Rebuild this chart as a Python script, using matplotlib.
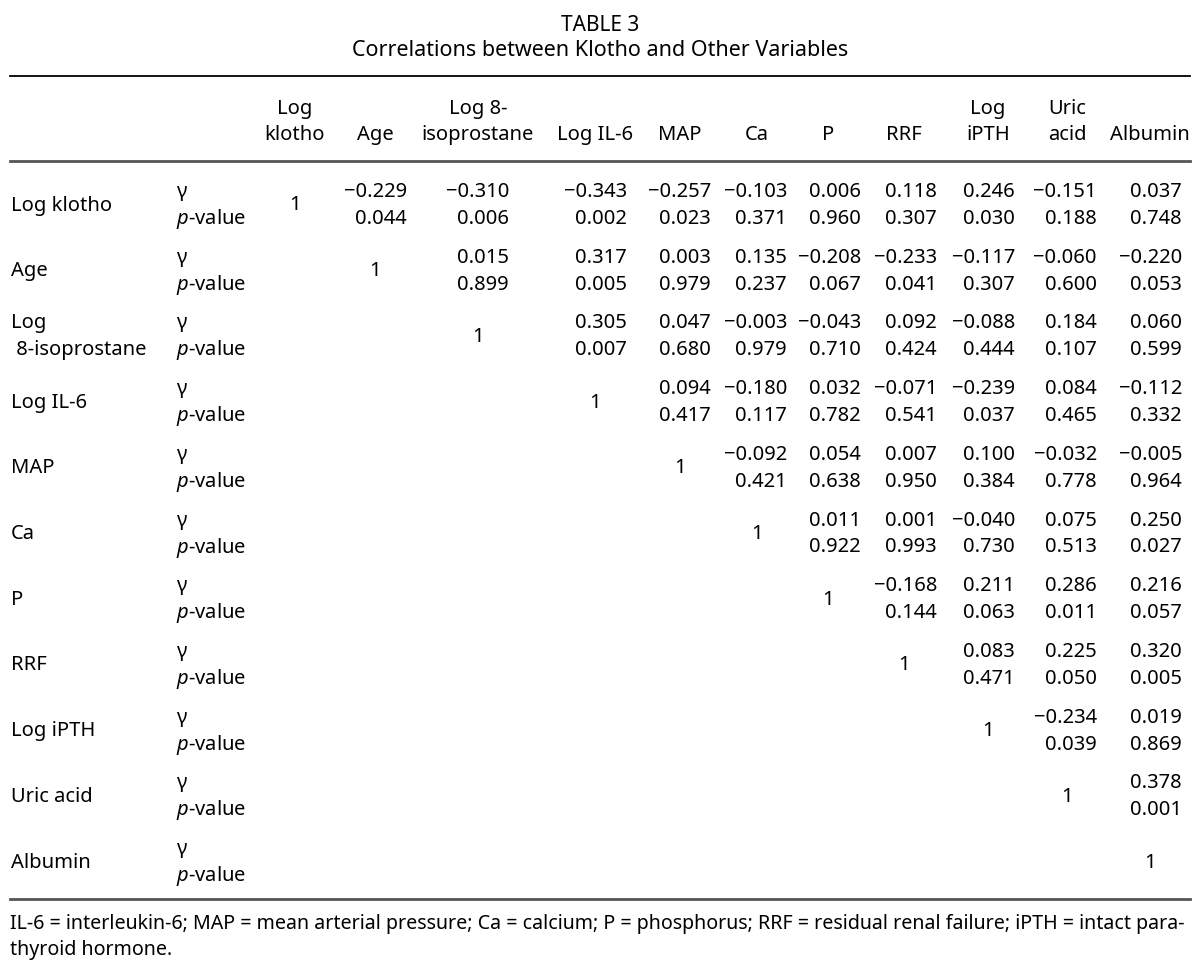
import matplotlib
matplotlib.use("Agg")
import matplotlib.pyplot as plt

plt.rcParams['font.family'] = ['Noto Sans', 'DejaVu Sans']
plt.rcParams['mathtext.fontset'] = 'custom'
plt.rcParams['mathtext.rm'] = 'Noto Sans'
plt.rcParams['mathtext.it'] = 'Noto Sans:italic'

# Table content
title = 'TABLE 3'
subtitle = 'Correlations between Klotho and Other Variables'
col_headers = ['Log\nklotho', 'Age', 'Log 8-\nisoprostane', 'Log IL-6', 'MAP', 'Ca', 'P',
               'RRF', 'Log\niPTH', 'Uric\nacid', 'Albumin']
row_labels = ['Log klotho', 'Age', 'Log\n 8-isoprostane', 'Log IL-6', 'MAP', 'Ca', 'P',
              'RRF', 'Log iPTH', 'Uric acid', 'Albumin']

# upper-triangle values, each row starts at the column after the diagonal
gamma = [
    [-0.229, -0.310, -0.343, -0.257, -0.103, 0.006, 0.118, 0.246, -0.151, 0.037],
    [0.015, 0.317, 0.003, 0.135, -0.208, -0.233, -0.117, -0.060, -0.220],
    [0.305, 0.047, -0.003, -0.043, 0.092, -0.088, 0.184, 0.060],
    [0.094, -0.180, 0.032, -0.071, -0.239, 0.084, -0.112],
    [-0.092, 0.054, 0.007, 0.100, -0.032, -0.005],
    [0.011, 0.001, -0.040, 0.075, 0.250],
    [-0.168, 0.211, 0.286, 0.216],
    [0.083, 0.225, 0.320],
    [-0.234, 0.019],
    [0.378],
    [],
]
pvals = [
    [0.044, 0.006, 0.002, 0.023, 0.371, 0.960, 0.307, 0.030, 0.188, 0.748],
    [0.899, 0.005, 0.979, 0.237, 0.067, 0.041, 0.307, 0.600, 0.053],
    [0.007, 0.680, 0.979, 0.710, 0.424, 0.444, 0.107, 0.599],
    [0.417, 0.117, 0.782, 0.541, 0.037, 0.465, 0.332],
    [0.421, 0.638, 0.950, 0.384, 0.778, 0.964],
    [0.922, 0.993, 0.730, 0.513, 0.027],
    [0.144, 0.063, 0.011, 0.057],
    [0.471, 0.050, 0.005],
    [0.039, 0.869],
    [0.001],
    [],
]
footnote = ('IL-6 = interleukin-6; MAP = mean arterial pressure; Ca = calcium; P = phosphorus; '
            'RRF = residual renal failure; iPTH = intact para-\nthyroid hormone.')

# Layout (pixel coordinates on a 1200 x 978 canvas)
col_center = [295, 375, 478, 595, 680, 757, 828, 904, 988, 1067, 1150]
col_right = [330, 407, 509, 627, 711, 787, 861, 937, 1015, 1097, 1182]
row_top = 190
row_step = 65.7
fs = 14.5

def fmt(v):
    return f'{v:.3f}'.replace('-', '\u2212')

fig = plt.figure(figsize=(12, 9.78), dpi=100)
ax = fig.add_axes([0, 0, 1, 1])
ax.set_xlim(0, 1200)
ax.set_ylim(978, 0)
ax.axis('off')

ax.text(600, 31, title, ha='center', va='baseline', fontsize=15)
ax.text(600, 56, subtitle, ha='center', va='baseline', fontsize=15.5)

# rules
ax.plot([10, 1190], [77, 77], color='black', lw=1.3)
ax.plot([10, 1190], [162, 162], color='#555555', lw=2.0)
ax.plot([10, 1190], [900, 900], color='#555555', lw=2.0)

# column headers
for x, h in zip(col_center, col_headers):
    lines = h.split('\n')
    if len(lines) == 2:
        ax.text(x, 114, lines[0], ha='center', va='baseline', fontsize=fs)
    ax.text(x, 140, lines[-1], ha='center', va='baseline', fontsize=fs)

# body
for i, label in enumerate(row_labels):
    yg = row_top + i * row_step
    yp = yg + 27
    mid = (yg + yp) / 2
    if '\n' in label:
        a, b = label.split('\n')
        ax.text(11, yg + 7, a, ha='left', va='baseline', fontsize=fs)
        ax.text(11, yp + 7, b, ha='left', va='baseline', fontsize=fs)
    else:
        ax.text(11, mid + 7, label, ha='left', va='baseline', fontsize=fs)
    ax.text(176, yg + 7, '\u03b3', ha='left', va='baseline', fontsize=fs)
    ax.text(176, yp + 7, r'$p$-value', ha='left', va='baseline', fontsize=fs)
    ax.text(col_center[i], mid + 7, '1', ha='center', va='baseline', fontsize=fs)
    for k, (g, p) in enumerate(zip(gamma[i], pvals[i])):
        xr = col_right[i + 1 + k]
        ax.text(xr, yg + 7, fmt(g), ha='right', va='baseline', fontsize=fs)
        ax.text(xr, yp + 7, fmt(p), ha='right', va='baseline', fontsize=fs)

# footnote, stretched to the table width
l1, l2 = footnote.split('\n')
t1 = ax.text(10, 929, l1, ha='left', va='baseline', fontsize=13)
t2 = ax.text(10, 955, l2, ha='left', va='baseline', fontsize=13)
fig.canvas.draw()
w = t1.get_window_extent().width
scale = 1180 / w
t1.set_fontsize(13 * scale)
t2.set_fontsize(13 * scale)

fig.savefig('out.png', dpi=100)
